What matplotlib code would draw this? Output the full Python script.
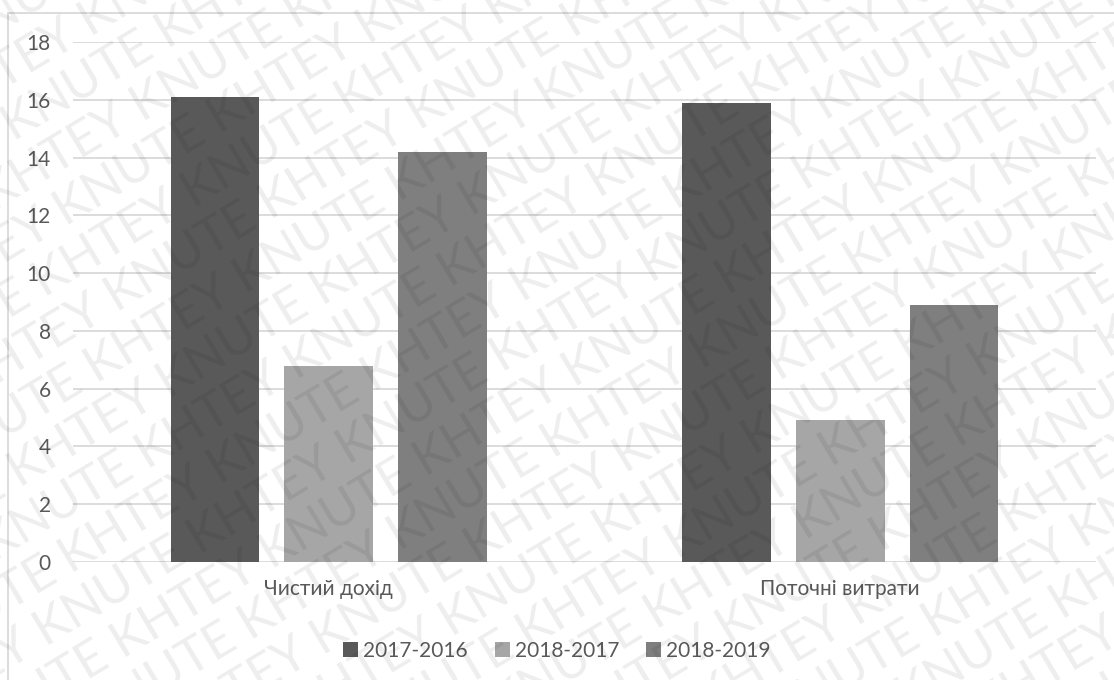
import matplotlib.pyplot as plt
import numpy as np
from matplotlib.patches import Rectangle
from matplotlib.transforms import IdentityTransform

plt.rcParams['font.family'] = ['Lato', 'DejaVu Sans']

categories = ['Чистий дохід', 'Поточні витрати']
series = ['2017-2016', '2018-2017', '2018-2019']
values = [
    [16.1, 15.9],   # 2017-2016
    [6.8, 4.9],     # 2018-2017
    [14.2, 8.9],    # 2018-2019
]
colors = ['#595959', '#a6a6a6', '#7f7f7f']

W, H = 1114, 680
fig = plt.figure(figsize=(W / 100, H / 100), dpi=100)
ax = fig.add_axes([73 / W, 1 - 562 / H, (1096 - 73) / W, (562 - 42) / H])

x = np.arange(len(categories))
bw = 0.1735
step = 0.2225
for i, (name, vals) in enumerate(zip(series, values)):
    ax.bar(x + (i - 1) * step, vals, width=bw, color=colors[i], label=name, zorder=3)

ax.set_xlim(-0.5, 1.5)
ax.set_ylim(0, 18)
ax.set_yticks(range(0, 19, 2))
ax.yaxis.grid(True, color='#d9d9d9', linewidth=1.3, zorder=0)
ax.set_xticks(x)
ax.set_xticklabels(categories)
ax.tick_params(axis='both', length=0, labelsize=15, labelcolor='#595959')
ax.tick_params(axis='x', pad=12)
ax.tick_params(axis='y', pad=16)
for s in ax.spines.values():
    s.set_visible(False)

leg = fig.legend(loc='center', bbox_to_anchor=(557 / W, 1 - 651 / H), ncol=3,
                 frameon=False, fontsize=15, handlelength=0.7, handleheight=0.7,
                 handletextpad=0.25, columnspacing=1.3)
for t in leg.get_texts():
    t.set_color('#595959')

# chart border
fig.patches.append(Rectangle((8 / W, -0.05), 1.1, 1 - 13 / H + 0.05, transform=fig.transFigure,
                             fill=False, edgecolor='#d9d9d9', linewidth=1.3))

# diagonal watermark
deg = 31
ang = np.deg2rad(deg)
u = np.array([np.cos(ang), np.sin(ang)])
n = np.array([-np.sin(ang), np.cos(ang)])
c = np.array([W / 2, H / 2])
for k in range(-13, 14):
    words = ['KNUTE', 'KHTEY'] if k % 2 == 0 else ['KHTEY', 'KNUTE']
    line = ' '.join(words * 6)
    p = c + k * 50 * n - 950 * u + (k % 2) * 60 * u
    fig.text(p[0], p[1], line, transform=IdentityTransform(), rotation=deg,
             rotation_mode='anchor', fontsize=36, color='black', alpha=0.07,
             zorder=10)

fig.savefig('out.png', dpi=100)
